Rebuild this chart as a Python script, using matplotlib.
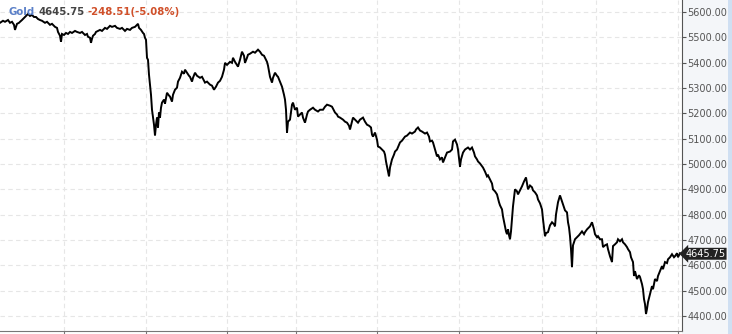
import matplotlib.pyplot as plt
from matplotlib.patches import Rectangle

# bar position (left to right) and price
bars = [0, 3, 5, 8, 10, 12, 14, 15, 16, 17, 19, 20, 22, 24, 25, 27, 28, 30, 32, 34,
        36, 38, 40, 42, 45, 47, 50, 52, 55, 57, 58, 60, 61, 62, 64, 66, 68, 70, 72, 75,
        77, 80, 82, 85, 87, 88, 90, 91, 92, 93, 95, 96, 98, 100, 102, 105, 107, 110, 112, 115,
        117, 120, 122, 125, 127, 130, 132, 135, 137, 138, 139, 141, 143, 144, 145, 146, 147, 148, 149, 150,
        151, 152, 153, 154, 155, 156, 157, 158, 159, 160, 161, 162, 164, 165, 167, 169, 170, 172, 173, 175,
        177, 178, 180, 182, 184, 185, 187, 189, 190, 192, 193, 195, 197, 200, 202, 205, 207, 210, 212, 214,
        216, 218, 220, 222, 224, 225, 227, 230, 232, 233, 235, 238, 240, 242, 244, 245, 247, 248, 250, 253,
        255, 258, 260, 262, 264, 267, 268, 270, 272, 273, 275, 277, 278, 280, 282, 284, 285, 286, 287, 288,
        290, 292, 293, 295, 297, 298, 300, 302, 303, 305, 307, 308, 310, 313, 315, 318, 320, 323, 325, 327,
        330, 332, 335, 337, 338, 340, 343, 345, 347, 349, 350, 352, 353, 355, 358, 360, 363, 365, 367, 369,
        371, 372, 373, 375, 377, 378, 380, 382, 384, 385, 386, 387, 388, 389, 390, 392, 394, 395, 397, 400,
        402, 405, 407, 410, 412, 415, 416, 418, 420, 422, 425, 427, 429, 430, 432, 433, 435, 437, 438, 440,
        442, 443, 445, 447, 450, 452, 453, 455, 457, 458, 460, 461, 463, 465, 468, 470, 472, 474, 475, 477,
        478, 480, 483, 485, 487, 488, 490, 492, 493, 495, 497, 499, 500, 502, 503, 504, 505, 506, 507, 508,
        509, 510, 511, 512, 513, 514, 515, 517, 518, 520, 522, 524, 526, 527, 528, 530, 532, 533, 535, 537,
        538, 540, 542, 543, 544, 545, 546, 548, 550, 552, 554, 555, 556, 558, 560, 561, 563, 565, 567, 568,
        569, 570, 571, 572, 573, 575, 577, 579, 582, 584, 585, 587, 590, 592, 594, 595, 597, 598, 600, 602,
        603, 605, 607, 608, 610, 611, 612, 613, 615, 617, 618, 620, 622, 623, 625, 627, 628, 630, 631, 633,
        634, 635, 637, 639, 640, 642, 643, 644, 645, 646, 647, 648, 650, 652, 653, 655, 657, 658, 660, 662,
        663, 665, 667, 668, 670, 672, 674, 675, 677, 678, 680]
price = [5557, 5565, 5561, 5568, 5557, 5561, 5549, 5529, 5541, 5553, 5557, 5561, 5568, 5576, 5580, 5588, 5592, 5584, 5588, 5580,
         5580, 5572, 5568, 5565, 5557, 5561, 5549, 5553, 5541, 5537, 5521, 5506, 5482, 5513, 5509, 5517, 5513, 5521, 5517, 5525,
         5521, 5517, 5521, 5509, 5513, 5502, 5498, 5478, 5494, 5506, 5513, 5521, 5525, 5529, 5525, 5537, 5533, 5545, 5541, 5545,
         5537, 5533, 5537, 5525, 5533, 5529, 5537, 5541, 5549, 5553, 5537, 5529, 5517, 5513, 5498, 5490, 5419, 5411, 5352, 5313,
         5273, 5214, 5183, 5155, 5112, 5155, 5183, 5144, 5203, 5183, 5222, 5242, 5254, 5238, 5281, 5270, 5266, 5246, 5273, 5293,
         5301, 5325, 5340, 5364, 5356, 5372, 5360, 5348, 5344, 5325, 5340, 5360, 5348, 5340, 5344, 5321, 5325, 5313, 5309, 5293,
         5305, 5321, 5328, 5344, 5372, 5399, 5391, 5403, 5399, 5419, 5403, 5384, 5411, 5443, 5427, 5399, 5419, 5431, 5435, 5443,
         5439, 5451, 5443, 5431, 5427, 5403, 5388, 5344, 5321, 5340, 5360, 5348, 5344, 5325, 5305, 5273, 5254, 5214, 5124, 5167,
         5175, 5234, 5242, 5214, 5222, 5187, 5195, 5203, 5183, 5163, 5195, 5207, 5214, 5222, 5214, 5207, 5214, 5214, 5226, 5234,
         5230, 5226, 5203, 5195, 5187, 5183, 5175, 5167, 5163, 5151, 5136, 5167, 5183, 5175, 5163, 5175, 5183, 5167, 5155, 5151,
         5144, 5116, 5108, 5124, 5096, 5069, 5065, 5057, 5049, 5037, 5010, 4990, 4970, 4951, 4986, 5018, 5037, 5049, 5057, 5085,
         5092, 5108, 5112, 5124, 5120, 5128, 5136, 5144, 5132, 5128, 5120, 5124, 5108, 5089, 5092, 5085, 5057, 5030, 5037, 5018,
         5026, 5006, 5026, 5045, 5049, 5057, 5089, 5096, 5077, 5057, 4990, 5018, 5045, 5057, 5065, 5057, 5065, 5045, 5030, 5018,
         5010, 5002, 4986, 4970, 4951, 4955, 4939, 4923, 4900, 4892, 4880, 4849, 4837, 4821, 4793, 4774, 4754, 4734, 4723, 4742,
         4719, 4703, 4734, 4782, 4833, 4868, 4900, 4892, 4880, 4896, 4912, 4931, 4947, 4923, 4900, 4915, 4908, 4896, 4888, 4876,
         4860, 4845, 4821, 4782, 4750, 4715, 4727, 4731, 4758, 4770, 4762, 4754, 4801, 4849, 4876, 4864, 4841, 4817, 4809, 4770,
         4750, 4715, 4664, 4593, 4679, 4703, 4711, 4719, 4734, 4723, 4731, 4742, 4754, 4770, 4742, 4723, 4711, 4715, 4703, 4703,
         4672, 4679, 4683, 4664, 4636, 4624, 4613, 4676, 4683, 4691, 4703, 4695, 4703, 4691, 4683, 4672, 4664, 4652, 4632, 4613,
         4558, 4577, 4546, 4561, 4554, 4526, 4506, 4467, 4447, 4408, 4428, 4455, 4487, 4518, 4506, 4546, 4538, 4558, 4577, 4597,
         4585, 4613, 4609, 4624, 4632, 4644, 4632, 4636, 4648, 4632, 4648]

session_lines = [64, 146, 227, 296, 377, 459, 542, 596, 678]
price_ticks = [4400, 4500, 4600, 4700, 4800, 4900, 5000, 5100, 5200, 5300, 5400, 5500, 5600]
last_price = 4645.75
change = -248.51
change_pct = -5.08

fig = plt.figure(figsize=(7.32, 3.34), dpi=100)
fig.patch.set_facecolor('white')

# right side panel and blue strip (behind the axes)
fig.patches.append(Rectangle((682 / 732, 0), 46 / 732, 1, transform=fig.transFigure,
                             facecolor='#f4f6f9', edgecolor='none', zorder=-5))
fig.patches.append(Rectangle((728 / 732, 0), 4 / 732, 1, transform=fig.transFigure,
                             facecolor='#cfdff2', edgecolor='none', zorder=-5))

ax = fig.add_axes([0, 3 / 334, 682 / 732, 331 / 334])
ax.set_facecolor('white')
ax.plot(bars, price, color='black', linewidth=1.4, solid_joinstyle='miter')

ax.set_xlim(0, 682)
ax.set_ylim(4341, 5647)

ax.set_xticks(session_lines)
ax.set_xticklabels([])
ax.set_yticks(price_ticks)
ax.set_yticklabels(['%.2f' % p for p in price_ticks])
ax.yaxis.tick_right()
ax.tick_params(axis='y', direction='out', length=3, width=0.8, colors='#555555',
               labelsize=7, pad=1)
ax.tick_params(axis='x', direction='out', length=3, width=0.8, colors='#777777')
ax.grid(True, color='#e6e6e6', linestyle=(0, (4, 3)), linewidth=0.8)

for side in ['top', 'left']:
    ax.spines[side].set_visible(False)
ax.spines['right'].set_color('#555555')
ax.spines['bottom'].set_color('#777777')

# last price marker on the axis
ax.annotate('%.2f' % last_price, xy=(1.0, last_price), xycoords=('axes fraction', 'data'),
            xytext=(2.5, 0), textcoords='offset points', ha='left', va='center',
            fontsize=7, color='white', annotation_clip=False,
            bbox=dict(boxstyle='larrow,pad=0.1', facecolor='#222222', edgecolor='none'))

# header text
fig.text(0.011, 0.978, 'Gold', color='#5b80c8', fontsize=7.3, fontweight='bold', va='top')
fig.text(0.053, 0.978, '%.2f' % last_price, color='#444444', fontsize=7.3, fontweight='bold', va='top')
fig.text(0.119, 0.978, '%.2f(%.2f%%)' % (change, change_pct), color='#d0502a', fontsize=7.3,
         fontweight='bold', va='top')

fig.savefig('out.png', dpi=100)
